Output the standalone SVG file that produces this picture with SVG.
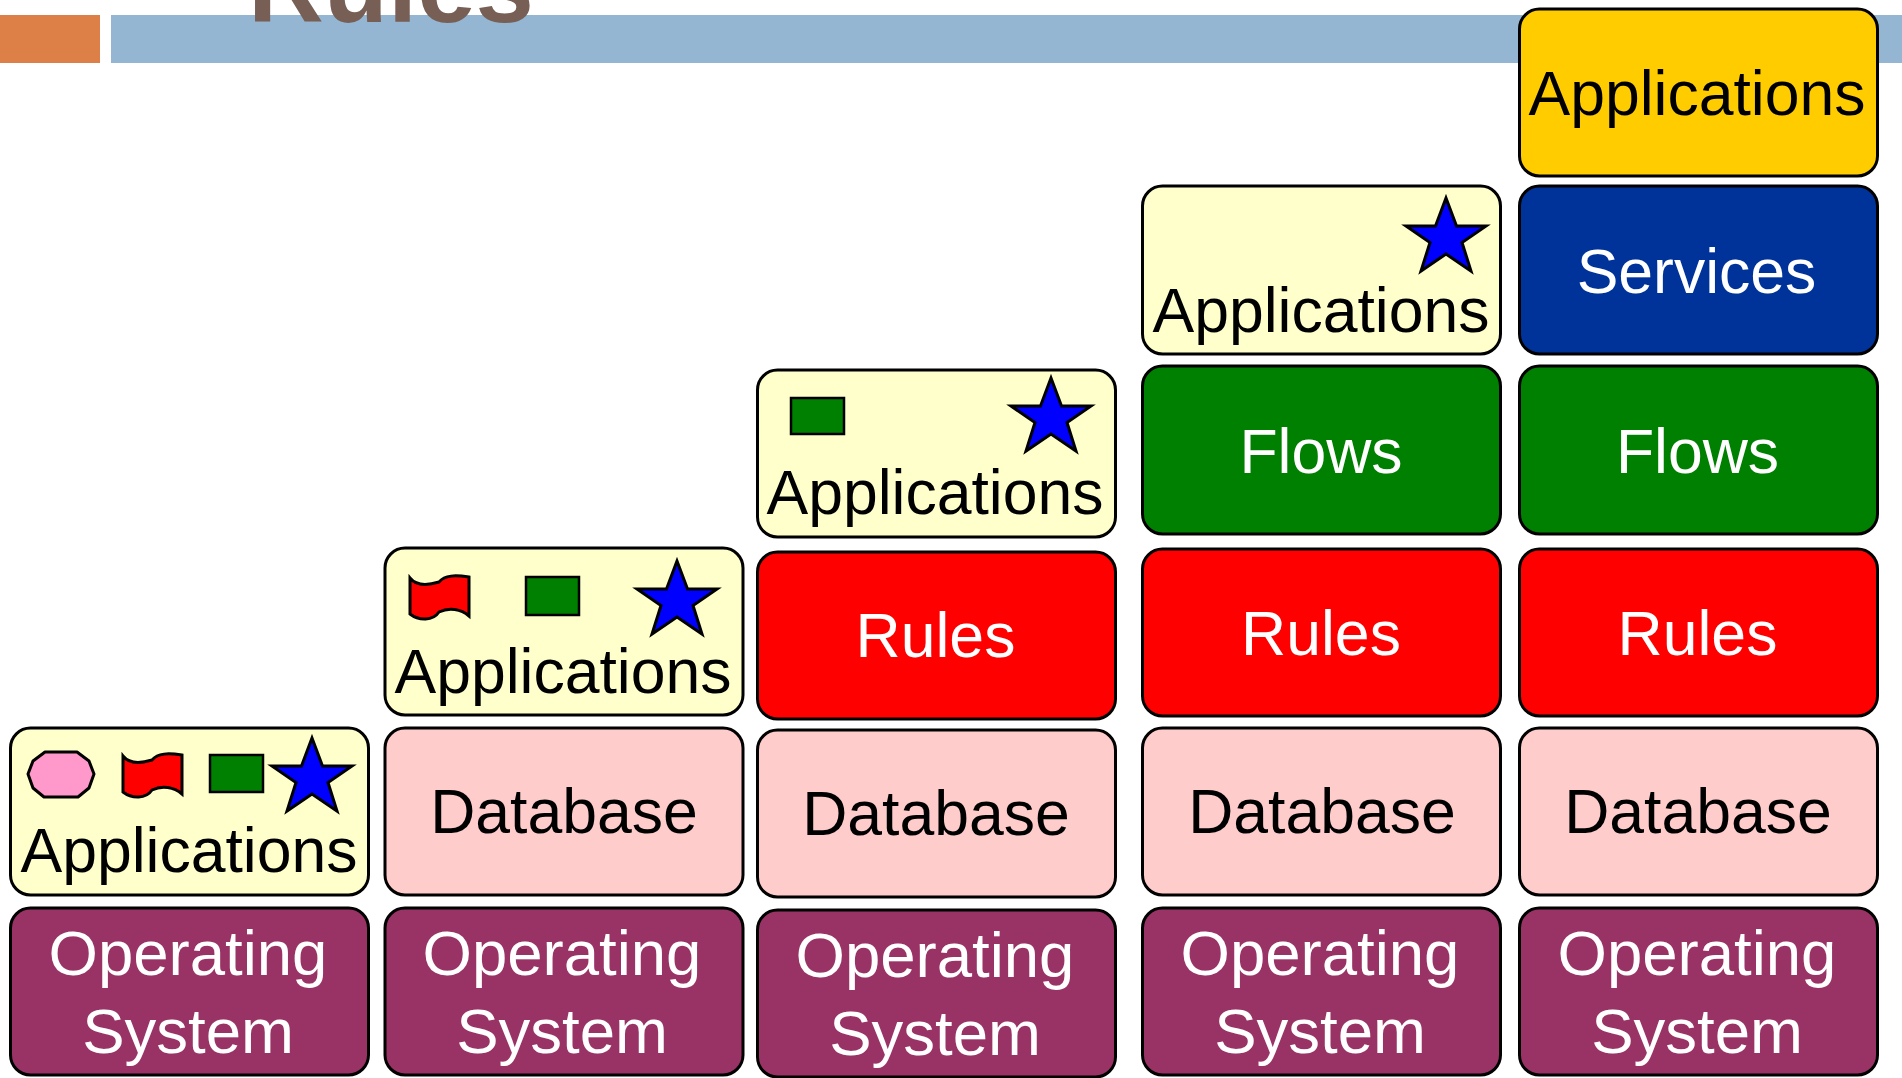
<svg xmlns="http://www.w3.org/2000/svg" width="1902" height="1078" viewBox="0 0 1902 1078">
<style>
.b{stroke:#000;stroke-width:3}
.t{font-family:"Liberation Sans",Arial,sans-serif;font-size:62.500px;text-anchor:middle}
.o{font-size:63.500px}
.k{fill:#000}.w{fill:#fff}
.app{fill:#FFFFCC}.db{fill:#FFCCCC}.os{fill:#993366}.ru{fill:#FF0000}.fl{fill:#008000}
.s{fill:#0000FF;stroke:#000;stroke-width:3;stroke-linejoin:miter}
.g{fill:#008000;stroke:#000;stroke-width:2.500}
.f{fill:#FF0000;stroke:#000;stroke-width:3}
</style>
<defs>
<polygon id="star" class="s" points="44,5 54.500,33 84,33 60,49.500 69,78 44,61 19,78 28,49.500 4,33 33.500,33"/>
<path id="flag" class="f" d="M1,4 C8,13 20,11 30,8 C36,1 46,1 60,3 L60,42 C52,35 40,33 30,38 C24,47 10,47 1,40 Z"/>
</defs>
<rect x="0" y="15" width="100" height="48" fill="#DD8047"/>
<rect x="111" y="15" width="1791" height="48" fill="#94B6D2"/>
<text x="248" y="22" font-family="'Liberation Sans',Arial,sans-serif" font-size="105" font-weight="700" fill="#775F55">Rules</text>

<g id="c1-apps"><rect class="b app" x="10.500" y="728" width="358" height="167" rx="20"/>
<path d="M45,752 L77,752 L89,761 L94,774 L89,788 L78,797 L44,797 L33,788 L28,774 L33,761 Z" fill="#FF99CC" stroke="#000" stroke-width="3" stroke-linejoin="round"/>
<use href="#flag" x="122" y="752"/><rect class="g" x="210" y="755" width="53" height="37"/><use href="#star" x="268" y="733"/>
<text class="t k" x="189" y="872">Applications</text></g>
<g id="c1-os"><rect class="b os" x="10.500" y="908" width="358" height="167" rx="20"/><text class="t o w" x="188" y="975">Operating</text><text class="t o w" x="188" y="1053">System</text></g>

<g id="c2-apps"><rect class="b app" x="385" y="548" width="358" height="167" rx="20"/>
<use href="#flag" x="409" y="574"/><rect class="g" x="526" y="577" width="53" height="38"/><use href="#star" x="633" y="556"/>
<text class="t k" x="563" y="693">Applications</text></g>
<g id="c2-db"><rect class="b db" x="385" y="728" width="358" height="167" rx="20"/><text class="t k" x="564" y="833">Database</text></g>
<g id="c2-os"><rect class="b os" x="385" y="908" width="358" height="167" rx="20"/><text class="t o w" x="562" y="975">Operating</text><text class="t o w" x="562" y="1053">System</text></g>

<g id="c3-apps"><rect class="b app" x="757.500" y="370" width="358" height="167" rx="20"/>
<rect class="g" x="791" y="398" width="53" height="36"/><use href="#star" x="1007" y="373"/>
<text class="t k" x="935" y="514">Applications</text></g>
<g id="c3-rules"><rect class="b ru" x="757.500" y="552" width="358" height="167" rx="20"/><text class="t w" x="935.500" y="657">Rules</text></g>
<g id="c3-db"><rect class="b db" x="757.500" y="730" width="358" height="167" rx="20"/><text class="t k" x="936" y="835">Database</text></g>
<g id="c3-os"><rect class="b os" x="757.500" y="910" width="358" height="167" rx="20"/><text class="t o w" x="935" y="977">Operating</text><text class="t o w" x="935" y="1055">System</text></g>

<g id="c4-apps"><rect class="b app" x="1142.500" y="186" width="358" height="168" rx="20"/>
<use href="#star" x="1402" y="193"/>
<text class="t k" x="1321" y="332">Applications</text></g>
<g id="c4-flows"><rect class="b fl" x="1142.500" y="366" width="358" height="168" rx="20"/><text class="t w" x="1321" y="473">Flows</text></g>
<g id="c4-rules"><rect class="b ru" x="1142.500" y="549" width="358" height="167" rx="20"/><text class="t w" x="1321" y="655">Rules</text></g>
<g id="c4-db"><rect class="b db" x="1142.500" y="728" width="358" height="167" rx="20"/><text class="t k" x="1322" y="833">Database</text></g>
<g id="c4-os"><rect class="b os" x="1142.500" y="908" width="358" height="167" rx="20"/><text class="t o w" x="1320" y="975">Operating</text><text class="t o w" x="1320" y="1053">System</text></g>

<g id="c5-apps"><rect class="b" fill="#FFCC00" x="1519.500" y="9" width="358" height="167" rx="20"/><text class="t k" x="1697" y="115">Applications</text></g>
<g id="c5-services"><rect class="b" fill="#003399" x="1519.500" y="186" width="358" height="168" rx="20"/><text class="t w" x="1696.500" y="293">Services</text></g>
<g id="c5-flows"><rect class="b fl" x="1519.500" y="366" width="358" height="168" rx="20"/><text class="t w" x="1697.500" y="473">Flows</text></g>
<g id="c5-rules"><rect class="b ru" x="1519.500" y="549" width="358" height="167" rx="20"/><text class="t w" x="1697.500" y="655">Rules</text></g>
<g id="c5-db"><rect class="b db" x="1519.500" y="728" width="358" height="167" rx="20"/><text class="t k" x="1698" y="833">Database</text></g>
<g id="c5-os"><rect class="b os" x="1519.500" y="908" width="358" height="167" rx="20"/><text class="t o w" x="1697" y="975">Operating</text><text class="t o w" x="1697" y="1053">System</text></g>
<g id="connectors"></g>
</svg>
